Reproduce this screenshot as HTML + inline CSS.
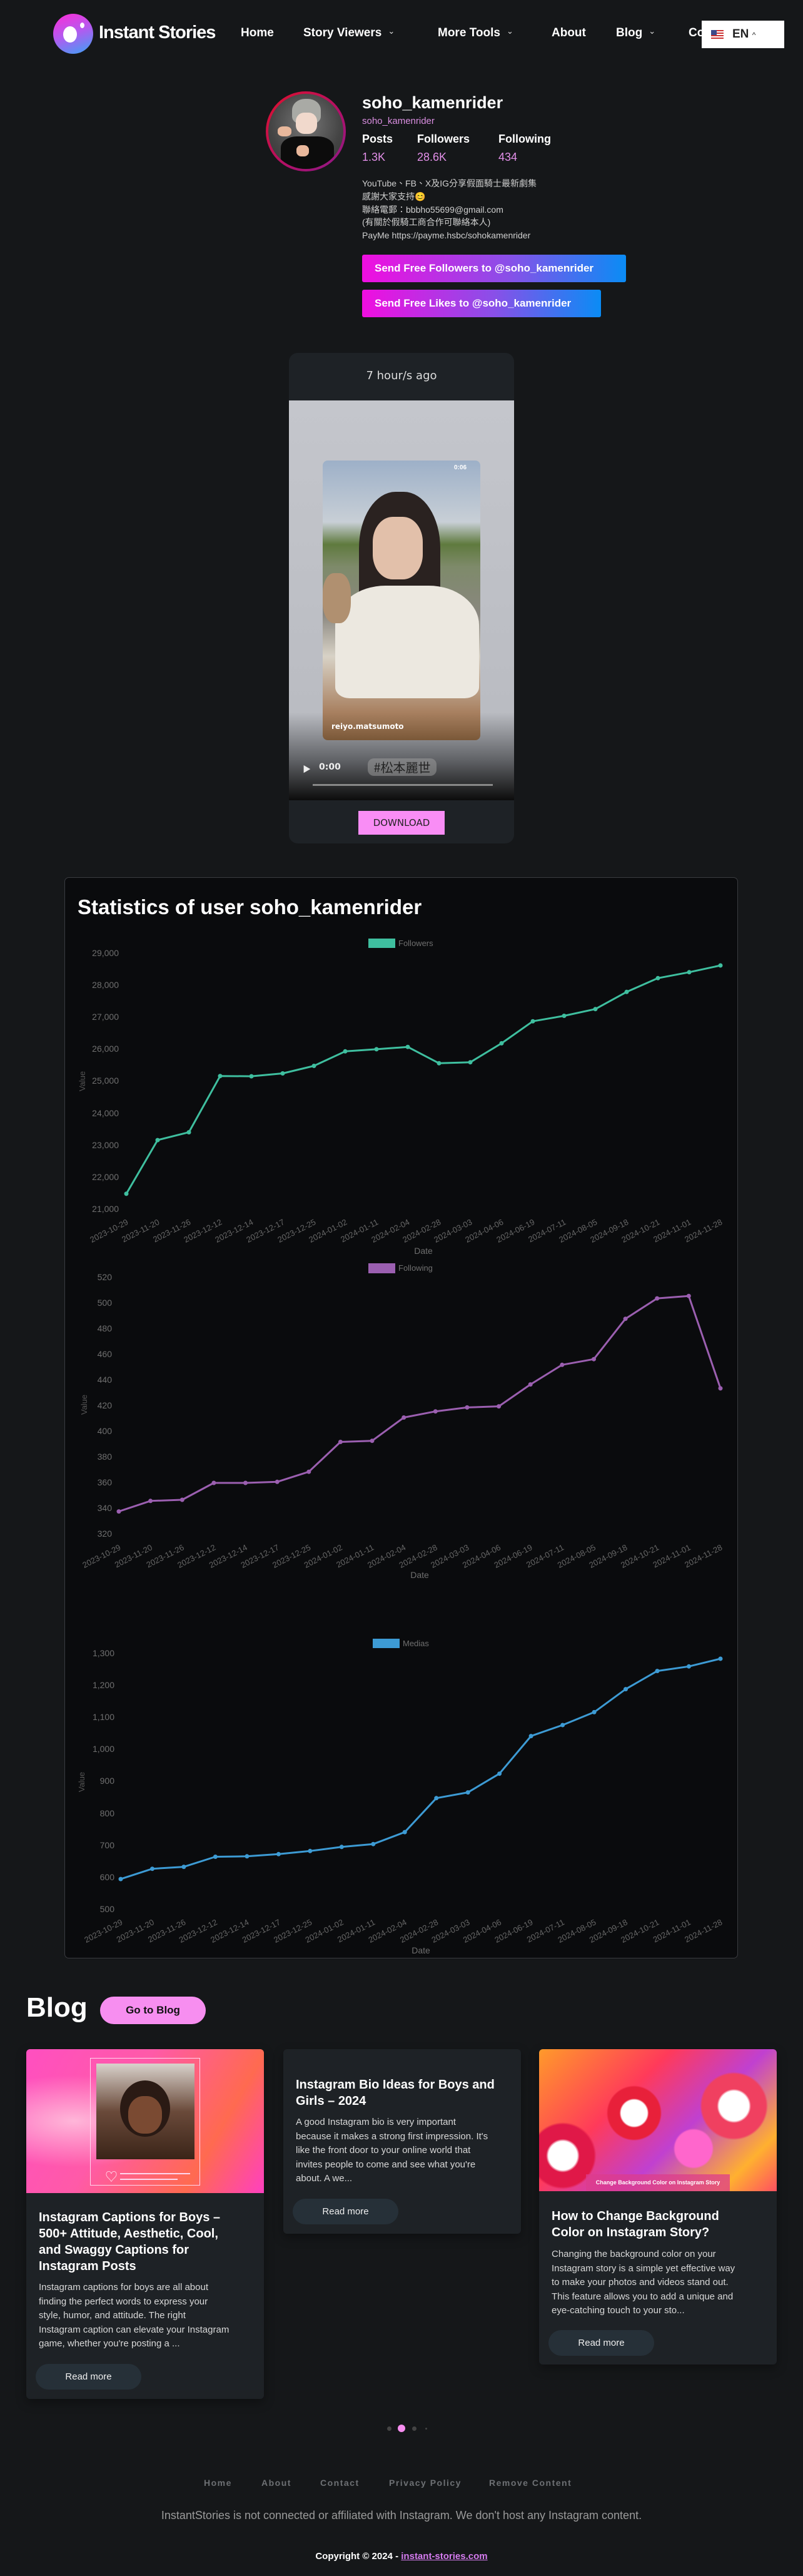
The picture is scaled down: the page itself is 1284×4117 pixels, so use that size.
<!DOCTYPE html>
<html><head><meta charset="utf-8">
<style>
*{margin:0;padding:0;box-sizing:border-box}
body{width:1284px;height:4117px;background:#151719;font-family:"Liberation Sans","Noto Sans CJK TC",sans-serif;color:#fff;position:relative;overflow:hidden}
.a{position:absolute;white-space:nowrap}
.nav{font-size:19px;font-weight:bold;top:42px}
.chev{font-size:13px;font-weight:normal;margin-left:10px;color:#ddd;position:relative;top:-4px}
.btn{position:absolute;left:579px;height:44px;border-radius:3px;background:linear-gradient(90deg,#f00ee0,#8a4fe8 55%,#0a8cf5);font-weight:bold;font-size:17px;line-height:44px;padding-left:20px}
.card{position:absolute;top:3275px;width:380px;background:#1e2226;border-radius:6px;overflow:hidden;box-shadow:0 6px 16px rgba(0,0,0,.35)}
.ct{position:absolute;left:20px;font-weight:bold;font-size:20px;line-height:26px;color:#fff;white-space:nowrap}
.cb{position:absolute;left:20px;font-size:15px;line-height:22.5px;color:#d8d8d8;white-space:nowrap}
.rm{position:absolute;width:169px;height:41px;border-radius:21px;background:#263038;color:#eee;font-size:15px;text-align:center;line-height:41px}
.fl{position:absolute;top:3960px;font-size:14px;font-weight:bold;color:#6d7074;letter-spacing:1.5px}
svg text{font-family:"Liberation Sans",sans-serif}
</style></head><body>

<!-- header -->
<div class="a" style="left:85px;top:22px;width:64px;height:64px;border-radius:50%;background:linear-gradient(160deg,#ff2bd6,#b05cf0 50%,#3aa3f5)"></div>
<div class="a" style="left:101px;top:42px;width:22px;height:26px;border-radius:50%;background:#fff"></div>
<div class="a" style="left:128px;top:36px;width:7px;height:9px;border-radius:50%;background:#fff"></div>
<div class="a" style="left:158px;top:36px;font-size:29px;font-weight:bold;letter-spacing:-1px">Instant Stories</div>
<div class="a nav" style="left:385px">Home</div>
<div class="a nav" style="left:485px">Story Viewers<span class="chev">&#8964;</span></div>
<div class="a nav" style="left:700px">More Tools<span class="chev">&#8964;</span></div>
<div class="a nav" style="left:882px">About</div>
<div class="a nav" style="left:985px">Blog<span class="chev">&#8964;</span></div>
<div class="a nav" style="left:1101px">Co</div>
<div class="a" style="left:1122px;top:33px;width:132px;height:44px;background:#fff"></div>
<div class="a" style="left:1137px;top:48px;width:20px;height:14px;background:repeating-linear-gradient(180deg,#c33 0 2px,#fff 2px 4px)"></div>
<div class="a" style="left:1137px;top:48px;width:9px;height:8px;background:#3c4a8a"></div>
<div class="a" style="left:1171px;top:44px;font-size:19px;font-weight:bold;color:#222">EN <span style="font-size:12px;font-weight:normal">^</span></div>

<!-- profile -->
<div class="a" style="left:425px;top:146px;width:128px;height:128px;border-radius:50%;background:linear-gradient(135deg,#e0102a,#b0106a 60%,#8a1a8a);padding:4px">
 <div style="width:120px;height:120px;border-radius:50%;overflow:hidden;background:radial-gradient(circle at 50% 40%,#777,#444 60%,#333);position:relative">
  <div style="position:absolute;left:38px;top:8px;width:46px;height:40px;border-radius:45% 45% 30% 30%;background:#a9aaa5"></div>
  <div style="position:absolute;left:44px;top:30px;width:34px;height:34px;border-radius:40%;background:#f1d9cc"></div>
  <div style="position:absolute;left:20px;top:68px;width:85px;height:60px;border-radius:30% 30% 0 0;background:#0c0c0c"></div>
  <div style="position:absolute;left:45px;top:82px;width:20px;height:18px;border-radius:40%;background:#e9b89c"></div>
  <div style="position:absolute;left:15px;top:52px;width:22px;height:16px;border-radius:40%;background:#e9b89c"></div>
 </div>
</div>
<div class="a" style="left:579px;top:149px;font-size:27px;font-weight:bold">soho_kamenrider</div>
<div class="a" style="left:579px;top:185px;font-size:15px;color:#d98ee0">soho_kamenrider</div>
<div class="a" style="left:579px;top:212px;font-size:18px;font-weight:bold">Posts</div>
<div class="a" style="left:667px;top:212px;font-size:18px;font-weight:bold">Followers</div>
<div class="a" style="left:797px;top:212px;font-size:18px;font-weight:bold">Following</div>
<div class="a" style="left:579px;top:241px;font-size:18px;color:#e28fe8">1.3K</div>
<div class="a" style="left:667px;top:241px;font-size:18px;color:#e28fe8">28.6K</div>
<div class="a" style="left:797px;top:241px;font-size:18px;color:#e28fe8">434</div>
<div class="a" style="left:579px;top:283px;font-size:14px;line-height:20.8px;color:#d0d0d0">YouTube、FB、X及IG分享假面騎士最新劇集<br>感謝大家支持😊<br>聯絡電郵：bbbho55699@gmail.com<br>(有關於假騎工商合作可聯絡本人)<br>PayMe https://payme.hsbc/sohokamenrider</div>
<div class="btn" style="top:407px;width:422px">Send Free Followers to @soho_kamenrider</div>
<div class="btn" style="top:463px;width:382px">Send Free Likes to @soho_kamenrider</div>

<!-- video card -->
<div class="a" style="left:462px;top:564px;width:360px;height:784px;background:#1e2226;border-radius:14px;overflow:hidden">
 <div style="position:absolute;top:26px;width:100%;text-align:center;font-size:18px;color:#ddd;font-family:'DejaVu Sans',sans-serif">7 hour/s ago</div>
 <div style="position:absolute;top:76px;left:0;width:360px;height:639px;background:linear-gradient(180deg,#c4c6cc,#babcc2 78%,#606266 90%,#0c0c0c)"></div>
 <div style="position:absolute;top:172px;left:54px;width:252px;height:447px;border-radius:8px;overflow:hidden;background:linear-gradient(180deg,#9db0c8 0%,#c8cfd6 22%,#5f7a3e 30%,#7e8a6a 38%,#8a8780 55%,#d8d2c6 70%,#a88060 90%,#7a5838)">
  <div style="position:absolute;left:58px;top:50px;width:130px;height:200px;border-radius:45% 45% 20% 20%;background:#2a2220"></div>
  <div style="position:absolute;left:80px;top:90px;width:80px;height:100px;border-radius:40%;background:#e2c0aa"></div>
  <div style="position:absolute;left:20px;top:200px;width:230px;height:180px;border-radius:35% 35% 10% 10%;background:#ece8e0"></div>
  <div style="position:absolute;left:0;top:180px;width:45px;height:80px;border-radius:40%;background:#b09070"></div>
  <div style="position:absolute;left:14px;top:418px;font-size:12px;font-weight:bold;color:#fff;font-family:'DejaVu Sans',sans-serif">reiyo.matsumoto</div>
  <div style="position:absolute;left:210px;top:6px;font-size:10px;font-weight:bold;color:#fff">0:06</div>
 </div>
 <div style="position:absolute;top:655px;left:22px;font-size:13px;color:#eee">▶</div>
 <div style="position:absolute;top:654px;left:48px;font-size:14px;font-weight:bold;color:#eee;font-family:'DejaVu Sans',sans-serif">0:00</div>
 <div style="position:absolute;top:648px;left:126px;width:110px;height:28px;border-radius:10px;background:rgba(160,160,160,.5);font-size:20px;color:#222;text-align:center;line-height:28px;font-family:'Noto Sans CJK JP',sans-serif">#松本麗世</div>
 <div style="position:absolute;top:689px;left:38px;width:288px;height:3px;background:#888"></div>
 <div style="position:absolute;top:732px;left:111px;width:138px;height:38px;background:#f98df5;color:#222;font-size:15px;text-align:center;line-height:38px;font-family:'DejaVu Sans',sans-serif">DOWNLOAD</div>
</div>

<!-- stats card -->
<div class="a" style="left:103px;top:1402px;width:1077px;height:1728px;background:#0a0b0d;border:1px solid #3a3c40;border-radius:7px"></div>
<div class="a" style="left:124px;top:1431px;font-size:33px;font-weight:bold">Statistics of user soho_kamenrider</div>

<svg class="a" style="left:0;top:0" width="1284" height="3140">
<g font-size="14" fill="#6f6f6f" text-anchor="end">
 <text x="190" y="1528">29,000</text><text x="190" y="1579">28,000</text><text x="190" y="1630">27,000</text><text x="190" y="1681">26,000</text><text x="190" y="1732">25,000</text><text x="190" y="1784">24,000</text><text x="190" y="1835">23,000</text><text x="190" y="1886">22,000</text><text x="190" y="1937">21,000</text>
 <text x="179" y="2046">520</text><text x="179" y="2087">500</text><text x="179" y="2128">480</text><text x="179" y="2169">460</text><text x="179" y="2210">440</text><text x="179" y="2251">420</text><text x="179" y="2292">400</text><text x="179" y="2333">380</text><text x="179" y="2374">360</text><text x="179" y="2415">340</text><text x="179" y="2456">320</text>
 <text x="183" y="2647">1,300</text><text x="183" y="2698">1,200</text><text x="183" y="2749">1,100</text><text x="183" y="2800">1,000</text><text x="183" y="2851">900</text><text x="183" y="2903">800</text><text x="183" y="2954">700</text><text x="183" y="3005">600</text><text x="183" y="3056">500</text>
</g>
<g font-size="13" fill="#555" text-anchor="middle">
 <text transform="translate(136,1728) rotate(-90)">Value</text>
 <text transform="translate(139,2245) rotate(-90)">Value</text>
 <text transform="translate(135,2848) rotate(-90)">Value</text>
</g>
<g font-size="14" fill="#6f6f6f" text-anchor="middle">
 <text x="677" y="2004">Date</text><text x="671" y="2522">Date</text><text x="673" y="3122">Date</text>
</g>
<rect x="589" y="1500" width="43" height="15" fill="#3fbf9f"/><text x="637" y="1512" font-size="13" fill="#6f6f6f">Followers</text>
<rect x="589" y="2019" width="43" height="16" fill="#9b5fb0"/><text x="637" y="2031" font-size="13" fill="#6f6f6f">Following</text>
<rect x="596" y="2619" width="43" height="15" fill="#3d9bd4"/><text x="644" y="2631" font-size="13" fill="#6f6f6f">Medias</text>

<g fill="none" stroke-width="3" stroke-linejoin="round">
<polyline stroke="#3fbf9f" points="202,1907.9 252,1822.1 302,1809.6 352,1719.7 402,1720.1 452,1715.5 502,1703.5 552,1680.3 602,1676.9 652,1673.2 702,1699.3 752,1697.7 802,1667.4 852,1632.2 902,1623.5 952,1612.7 1002,1585.3 1052,1563.3 1102,1553.8 1152,1543"/>
<polyline stroke="#9b5fb0" points="190,2415.6 240.6,2398.8 291.3,2397 341.9,2370 392.5,2370 443.2,2368.3 493.8,2352.2 544.4,2304.5 595,2302.7 645.7,2265.5 696.3,2255.7 746.9,2249.4 797.6,2247.6 848.2,2212.6 898.8,2181.3 949.5,2172.2 1000.1,2107.7 1050.7,2075.1 1101.3,2071.2 1152,2218.9"/>
<polyline stroke="#3d9bd4" points="193,3003.1 243.5,2986.7 293.9,2983.6 344.4,2967.5 394.9,2966.8 445.4,2963.3 495.8,2958.3 546.3,2951.8 596.8,2947.2 647.2,2928.1 697.7,2873.8 748.2,2864.6 798.6,2834.7 849.1,2774.6 899.6,2757 950.1,2736.4 1000.5,2699.6 1051,2670.6 1101.5,2663.3 1152,2651"/>
</g>
<g fill="#3fbf9f"><circle cx="202" cy="1907.9" r="3.5"/><circle cx="252" cy="1822.1" r="3.5"/><circle cx="302" cy="1809.6" r="3.5"/><circle cx="352" cy="1719.7" r="3.5"/><circle cx="402" cy="1720.1" r="3.5"/><circle cx="452" cy="1715.5" r="3.5"/><circle cx="502" cy="1703.5" r="3.5"/><circle cx="552" cy="1680.3" r="3.5"/><circle cx="602" cy="1676.9" r="3.5"/><circle cx="652" cy="1673.2" r="3.5"/><circle cx="702" cy="1699.3" r="3.5"/><circle cx="752" cy="1697.7" r="3.5"/><circle cx="802" cy="1667.4" r="3.5"/><circle cx="852" cy="1632.2" r="3.5"/><circle cx="902" cy="1623.5" r="3.5"/><circle cx="952" cy="1612.7" r="3.5"/><circle cx="1002" cy="1585.3" r="3.5"/><circle cx="1052" cy="1563.3" r="3.5"/><circle cx="1102" cy="1553.8" r="3.5"/><circle cx="1152" cy="1543" r="3.5"/></g>
<g fill="#9b5fb0"><circle cx="190" cy="2415.6" r="3.5"/><circle cx="240.6" cy="2398.8" r="3.5"/><circle cx="291.3" cy="2397" r="3.5"/><circle cx="341.9" cy="2370" r="3.5"/><circle cx="392.5" cy="2370" r="3.5"/><circle cx="443.2" cy="2368.3" r="3.5"/><circle cx="493.8" cy="2352.2" r="3.5"/><circle cx="544.4" cy="2304.5" r="3.5"/><circle cx="595" cy="2302.7" r="3.5"/><circle cx="645.7" cy="2265.5" r="3.5"/><circle cx="696.3" cy="2255.7" r="3.5"/><circle cx="746.9" cy="2249.4" r="3.5"/><circle cx="797.6" cy="2247.6" r="3.5"/><circle cx="848.2" cy="2212.6" r="3.5"/><circle cx="898.8" cy="2181.3" r="3.5"/><circle cx="949.5" cy="2172.2" r="3.5"/><circle cx="1000.1" cy="2107.7" r="3.5"/><circle cx="1050.7" cy="2075.1" r="3.5"/><circle cx="1101.3" cy="2071.2" r="3.5"/><circle cx="1152" cy="2218.9" r="3.5"/></g>
<g fill="#3d9bd4"><circle cx="193" cy="3003.1" r="3.5"/><circle cx="243.5" cy="2986.7" r="3.5"/><circle cx="293.9" cy="2983.6" r="3.5"/><circle cx="344.4" cy="2967.5" r="3.5"/><circle cx="394.9" cy="2966.8" r="3.5"/><circle cx="445.4" cy="2963.3" r="3.5"/><circle cx="495.8" cy="2958.3" r="3.5"/><circle cx="546.3" cy="2951.8" r="3.5"/><circle cx="596.8" cy="2947.2" r="3.5"/><circle cx="647.2" cy="2928.1" r="3.5"/><circle cx="697.7" cy="2873.8" r="3.5"/><circle cx="748.2" cy="2864.6" r="3.5"/><circle cx="798.6" cy="2834.7" r="3.5"/><circle cx="849.1" cy="2774.6" r="3.5"/><circle cx="899.6" cy="2757" r="3.5"/><circle cx="950.1" cy="2736.4" r="3.5"/><circle cx="1000.5" cy="2699.6" r="3.5"/><circle cx="1051" cy="2670.6" r="3.5"/><circle cx="1101.5" cy="2663.3" r="3.5"/><circle cx="1152" cy="2651" r="3.5"/></g>

<g font-size="13" fill="#666" text-anchor="end">
<text transform="translate(206,1956) rotate(-27)">2023-10-29</text><text transform="translate(256,1956) rotate(-27)">2023-11-20</text><text transform="translate(306,1956) rotate(-27)">2023-11-26</text><text transform="translate(356,1956) rotate(-27)">2023-12-12</text><text transform="translate(406,1956) rotate(-27)">2023-12-14</text><text transform="translate(456,1956) rotate(-27)">2023-12-17</text><text transform="translate(506,1956) rotate(-27)">2023-12-25</text><text transform="translate(556,1956) rotate(-27)">2024-01-02</text><text transform="translate(606,1956) rotate(-27)">2024-01-11</text><text transform="translate(656,1956) rotate(-27)">2024-02-04</text><text transform="translate(706,1956) rotate(-27)">2024-02-28</text><text transform="translate(756,1956) rotate(-27)">2024-03-03</text><text transform="translate(806,1956) rotate(-27)">2024-04-06</text><text transform="translate(856,1956) rotate(-27)">2024-06-19</text><text transform="translate(906,1956) rotate(-27)">2024-07-11</text><text transform="translate(956,1956) rotate(-27)">2024-08-05</text><text transform="translate(1006,1956) rotate(-27)">2024-09-18</text><text transform="translate(1056,1956) rotate(-27)">2024-10-21</text><text transform="translate(1106,1956) rotate(-27)">2024-11-01</text><text transform="translate(1156,1956) rotate(-27)">2024-11-28</text>

<text transform="translate(194,2476) rotate(-27)">2023-10-29</text><text transform="translate(244.6,2476) rotate(-27)">2023-11-20</text><text transform="translate(295.3,2476) rotate(-27)">2023-11-26</text><text transform="translate(345.9,2476) rotate(-27)">2023-12-12</text><text transform="translate(396.5,2476) rotate(-27)">2023-12-14</text><text transform="translate(447.2,2476) rotate(-27)">2023-12-17</text><text transform="translate(497.8,2476) rotate(-27)">2023-12-25</text><text transform="translate(548.4,2476) rotate(-27)">2024-01-02</text><text transform="translate(599,2476) rotate(-27)">2024-01-11</text><text transform="translate(649.7,2476) rotate(-27)">2024-02-04</text><text transform="translate(700.3,2476) rotate(-27)">2024-02-28</text><text transform="translate(750.9,2476) rotate(-27)">2024-03-03</text><text transform="translate(801.6,2476) rotate(-27)">2024-04-06</text><text transform="translate(852.2,2476) rotate(-27)">2024-06-19</text><text transform="translate(902.8,2476) rotate(-27)">2024-07-11</text><text transform="translate(953.5,2476) rotate(-27)">2024-08-05</text><text transform="translate(1004.1,2476) rotate(-27)">2024-09-18</text><text transform="translate(1054.7,2476) rotate(-27)">2024-10-21</text><text transform="translate(1105.3,2476) rotate(-27)">2024-11-01</text><text transform="translate(1156,2476) rotate(-27)">2024-11-28</text>

<text transform="translate(197,3075) rotate(-27)">2023-10-29</text><text transform="translate(247.5,3075) rotate(-27)">2023-11-20</text><text transform="translate(297.9,3075) rotate(-27)">2023-11-26</text><text transform="translate(348.4,3075) rotate(-27)">2023-12-12</text><text transform="translate(398.9,3075) rotate(-27)">2023-12-14</text><text transform="translate(449.4,3075) rotate(-27)">2023-12-17</text><text transform="translate(499.8,3075) rotate(-27)">2023-12-25</text><text transform="translate(550.3,3075) rotate(-27)">2024-01-02</text><text transform="translate(600.8,3075) rotate(-27)">2024-01-11</text><text transform="translate(651.2,3075) rotate(-27)">2024-02-04</text><text transform="translate(701.7,3075) rotate(-27)">2024-02-28</text><text transform="translate(752.2,3075) rotate(-27)">2024-03-03</text><text transform="translate(802.6,3075) rotate(-27)">2024-04-06</text><text transform="translate(853.1,3075) rotate(-27)">2024-06-19</text><text transform="translate(903.6,3075) rotate(-27)">2024-07-11</text><text transform="translate(954.1,3075) rotate(-27)">2024-08-05</text><text transform="translate(1004.5,3075) rotate(-27)">2024-09-18</text><text transform="translate(1055,3075) rotate(-27)">2024-10-21</text><text transform="translate(1105.5,3075) rotate(-27)">2024-11-01</text><text transform="translate(1156,3075) rotate(-27)">2024-11-28</text>
</g>
</svg>

<!-- blog -->
<div class="a" style="left:42px;top:3184px;font-size:44px;font-weight:bold">Blog</div>
<div class="a" style="left:160px;top:3191px;width:169px;height:44px;border-radius:22px;background:#f78ef0;color:#111;font-size:17px;font-weight:bold;text-align:center;line-height:44px">Go to Blog</div>

<div class="card" style="left:42px;height:559px">
 <div style="position:absolute;left:0;top:0;width:380px;height:230px;background:radial-gradient(ellipse at 20% 50%,#ffb6d9,transparent 45%),linear-gradient(120deg,#ff4fc0,#ff5aa8 40%,#ff6a50 75%,#ff40c0)"></div>
 <div style="position:absolute;left:102px;top:14px;width:176px;height:204px;border:1.5px solid #ffd6ee"></div>
 <div style="position:absolute;left:112px;top:23px;width:157px;height:153px;background:linear-gradient(180deg,#d9d2cc,#6a4a3a 50%,#3a2418)"></div>
 <div style="position:absolute;left:150px;top:50px;width:80px;height:90px;border-radius:50%;background:#2a1a14"></div>
 <div style="position:absolute;left:163px;top:75px;width:54px;height:60px;border-radius:45%;background:#7a4a32"></div>
 <div style="position:absolute;left:126px;top:188px;font-size:20px;color:#ffe0f0">♡</div>
 <div style="position:absolute;left:150px;top:198px;width:112px;height:1.5px;background:#ffd6ee"></div>
 <div style="position:absolute;left:150px;top:207px;width:92px;height:1.5px;background:#ffd6ee"></div>
 <div class="ct" style="top:256px">Instagram Captions for Boys –<br>500+ Attitude, Aesthetic, Cool,<br>and Swaggy Captions for<br>Instagram Posts</div>
 <div class="cb" style="top:370px">Instagram captions for boys are all about<br>finding the perfect words to express your<br>style, humor, and attitude. The right<br>Instagram caption can elevate your Instagram<br>game, whether you're posting a ...</div>
 <div class="rm" style="left:15px;top:503px">Read more</div>
</div>

<div class="card" style="left:453px;height:295px">
 <div class="ct" style="top:44px">Instagram Bio Ideas for Boys and<br>Girls – 2024</div>
 <div class="cb" style="top:106px">A good Instagram bio is very important<br>because it makes a strong first impression. It's<br>like the front door to your online world that<br>invites people to come and see what you're<br>about. A we...</div>
 <div class="rm" style="left:15px;top:239px">Read more</div>
</div>

<div class="card" style="left:862px;height:504px">
 <div style="position:absolute;left:0;top:0;width:380px;height:227px;background:radial-gradient(circle at 40% 45%,#fff 0 8%,#e8203a 9% 16%,transparent 17%),radial-gradient(circle at 82% 40%,#fff 0 7%,#f04060 8% 15%,transparent 16%),radial-gradient(circle at 10% 75%,#fff 0 6%,#e01848 7% 13%,transparent 14%),radial-gradient(circle at 65% 70%,#f6c 0 10%,transparent 11%),linear-gradient(135deg,#ff9a2a,#ff3a5a 35%,#c040d0 60%,#ffb030 85%,#ff5060)"></div>
 <div style="position:absolute;left:75px;top:200px;width:230px;height:27px;background:rgba(220,60,140,.75);color:#fff;font-size:9px;font-weight:bold;text-align:center;line-height:27px">Change Background Color on Instagram Story</div>
 <div class="ct" style="top:254px">How to Change Background<br>Color on Instagram Story?</div>
 <div class="cb" style="top:317px">Changing the background color on your<br>Instagram story is a simple yet effective way<br>to make your photos and videos stand out.<br>This feature allows you to add a unique and<br>eye-catching touch to your sto...</div>
 <div class="rm" style="left:15px;top:449px">Read more</div>
</div>

<div class="a" style="left:619px;top:3878px;width:7px;height:7px;border-radius:50%;background:#444"></div>
<div class="a" style="left:636px;top:3875px;width:12px;height:12px;border-radius:50%;background:#f78ef0"></div>
<div class="a" style="left:659px;top:3878px;width:7px;height:7px;border-radius:50%;background:#444"></div>
<div class="a" style="left:680px;top:3880px;width:3px;height:3px;border-radius:50%;background:#444"></div>

<!-- footer -->
<div class="fl" style="left:326px">Home</div>
<div class="fl" style="left:418px">About</div>
<div class="fl" style="left:512px">Contact</div>
<div class="fl" style="left:622px">Privacy Policy</div>
<div class="fl" style="left:782px">Remove Content</div>
<div class="a" style="left:0;width:1284px;top:4010px;text-align:center;font-size:18px;color:#9a9a9a">InstantStories is not connected or affiliated with Instagram. We don't host any Instagram content.</div>
<div class="a" style="left:0;width:1284px;top:4077px;text-align:center;font-size:15px;font-weight:bold">Copyright © 2024 - <span style="color:#d67cf0;text-decoration:underline">instant-stories.com</span></div>
</body></html>
